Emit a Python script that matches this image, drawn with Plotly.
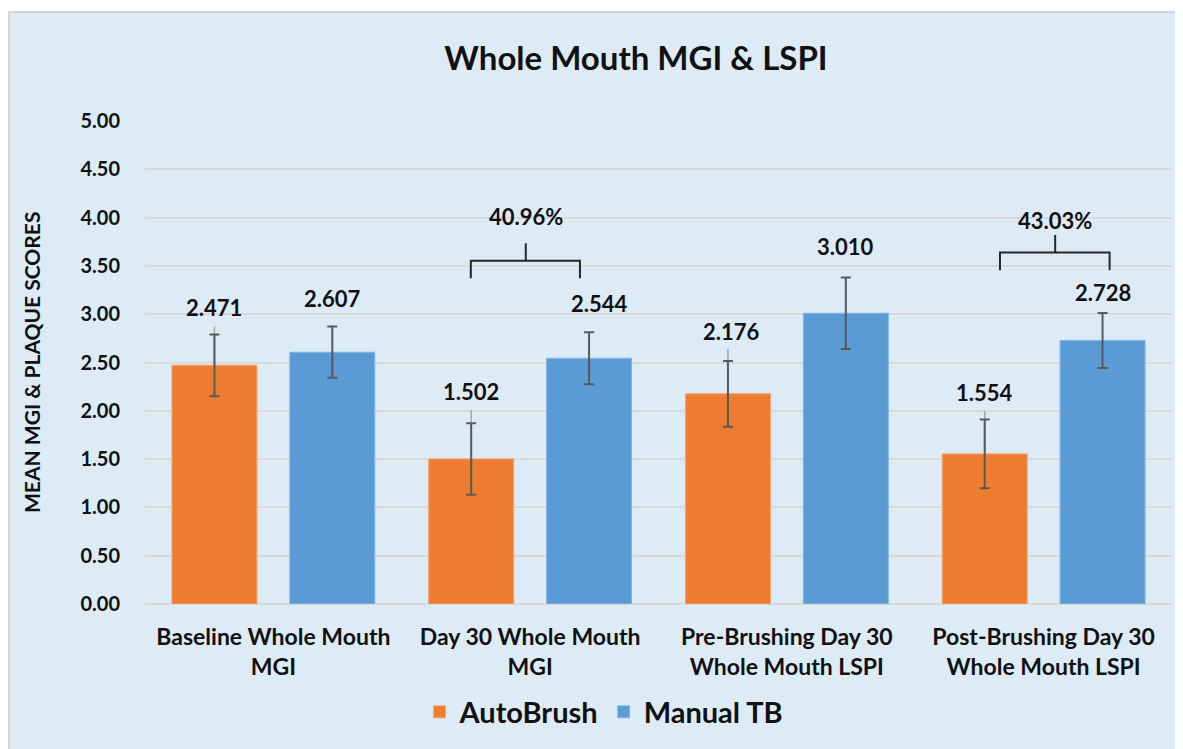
import plotly.graph_objects as go

categories = ["Baseline Whole Mouth<br>MGI", "Day 30 Whole Mouth<br>MGI",
              "Pre-Brushing Day 30<br>Whole Mouth LSPI", "Post-Brushing Day 30<br>Whole Mouth LSPI"]
series_names = ["AutoBrush", "Manual TB"]
auto_vals = [2.471, 1.502, 2.176, 1.554]
manual_vals = [2.607, 2.544, 3.010, 2.728]
auto_err = [0.32, 0.37, 0.34, 0.355]
manual_err = [0.265, 0.27, 0.37, 0.285]
auto_err_light = [0.40, 0.506, 0.464, 0.444]
auto_label_y = [3.07, 2.195, 2.82, 2.19]
manual_label_y = [3.16, 3.11, 3.706, 3.22]
manual_label_dx = [0, 10, 0, 0]
auto_label_dx = [0, 0, 4, 0]
pct_labels = ["40.96%", "43.03%"]
pct_cats = [1, 3]
pct_text_y = [4.01, 3.965]
pct_bracket_y = [3.554, 3.64]
pct_bracket_drop = [3.372, 3.454]
pct_bracket_tick = [3.734, 3.82]
pct_bracket_x = [(-0.231, 0.194, -0.017), (-0.170, 0.257, 0.045)]
y_ticks = [0, 0.5, 1.0, 1.5, 2.0, 2.5, 3.0, 3.5, 4.0, 4.5, 5.0]

ORANGE = "#ED7D31"
BLUE = "#5B9BD5"
BG = "#DDEBF7"
FONT = "Lato"
W = 0.331
OFF_A = -0.395
OFF_M = 0.064

# page is drawn with an 8px body margin
FW, FH = 1175, 741
ML, MT, PW, PH = 137, 113, 1027, 483
MR = FW - ML - PW
MB = FH - MT - PH

idx = list(range(len(categories)))

fig = go.Figure()
# light secondary error line for AutoBrush
fig.add_trace(go.Bar(
    x=idx, y=auto_vals, width=W, offset=OFF_A, showlegend=False, hoverinfo="skip",
    marker=dict(color="rgba(0,0,0,0)"),
    error_y=dict(type="data", symmetric=False, array=auto_err_light,
                 arrayminus=[0] * 4, color="#A6A6A6", thickness=1.5, width=0)))
fig.add_trace(go.Bar(
    x=idx, y=auto_vals, width=W, offset=OFF_A, name=series_names[0],
    marker=dict(color=ORANGE, line=dict(color="#F3A26F", width=1)),
    error_y=dict(type="data", array=auto_err, color="#595959", thickness=2, width=5)))
fig.add_trace(go.Bar(
    x=idx, y=manual_vals, width=W, offset=OFF_M, name=series_names[1],
    marker=dict(color=BLUE, line=dict(color="#85B5E1", width=1)),
    error_y=dict(type="data", array=manual_err, color="#595959", thickness=2, width=5)))

ca = OFF_A + W / 2
cm = OFF_M + W / 2
for i in idx:
    fig.add_annotation(x=i + ca, y=auto_label_y[i], xref="x", yref="y", text=f"{auto_vals[i]:.3f}",
                       showarrow=False, xshift=auto_label_dx[i],
                       font=dict(family=FONT, size=22, color="#111111", weight="bold"))
    fig.add_annotation(x=i + cm, y=manual_label_y[i], xref="x", yref="y", text=f"{manual_vals[i]:.3f}",
                       showarrow=False, xshift=manual_label_dx[i],
                       font=dict(family=FONT, size=22, color="#111111", weight="bold"))

for k, c in enumerate(pct_cats):
    xl, xr, xt = pct_bracket_x[k]
    fig.add_annotation(x=c + xt, y=pct_text_y[k], xref="x", yref="y", text=pct_labels[k],
                       showarrow=False, font=dict(family=FONT, size=22, color="#111111", weight="bold"))
    line = dict(color="#262626", width=2)
    fig.add_shape(type="path", xref="x", yref="y", line=line,
                  path=f"M {c+xl},{pct_bracket_drop[k]} L {c+xl},{pct_bracket_y[k]} L {c+xr},{pct_bracket_y[k]} L {c+xr},{pct_bracket_drop[k]}")
    fig.add_shape(type="line", xref="x", yref="y", line=line,
                  x0=c + xt, x1=c + xt, y0=pct_bracket_y[k], y1=pct_bracket_tick[k])

# chart area background with border
fig.add_shape(type="rect", xref="paper", yref="paper", layer="below",
              x0=(1 - ML) / PW, x1=(FW + 20 - ML) / PW,
              y0=(MT + PH - FH - 20) / PH, y1=(MT + PH - 4) / PH,
              fillcolor=BG, line=dict(color="#D4D4D4", width=2))

fig.add_annotation(xref="paper", yref="paper", x=(31 - 145) / PW, y=(604 - 363) / PH,
                   xanchor="center", yanchor="middle",
                   text="MEAN MGI & PLAQUE SCORES", textangle=-90, showarrow=False,
                   font=dict(family=FONT, size=21, color="#111111", weight="bold"))

fig.update_layout(
    width=FW, height=FH,
    margin=dict(l=ML, r=MR, t=MT, b=MB),
    paper_bgcolor="white", plot_bgcolor="rgba(0,0,0,0)",
    barmode="overlay",
    title=dict(text="<b>Whole Mouth MGI & LSPI</b>", x=(636 - 8) / FW, xref="container", xanchor="center",
               y=1 - (58 - 8) / FH, yanchor="middle",
               font=dict(family=FONT, size=33, color="#111111")),
    showlegend=True,
    legend=dict(orientation="h", x=(604 - 145) / PW, xanchor="center",
                y=(604 - 712) / PH, yanchor="middle", bgcolor="rgba(0,0,0,0)",
                font=dict(family=FONT, size=29, color="#111111", weight="bold"),
                itemwidth=30, traceorder="normal"),
    font=dict(family=FONT),
)
fig.update_xaxes(type="linear", range=[-0.5, 3.5], tickvals=idx, ticktext=categories,
                 showgrid=False, zeroline=False, showline=False, ticks="",
                 ticklabelstandoff=17,
                 tickfont=dict(family=FONT, size=23, color="#111111", weight="bold"))
fig.update_yaxes(range=[0, 5], tickvals=y_ticks, tickformat=".2f",
                 showgrid=True, gridcolor="#D9D9D9", gridwidth=2,
                 zeroline=True, zerolinecolor="#D9D9D9", zerolinewidth=2,
                 showline=False, ticks="", ticklabelstandoff=24,
                 tickfont=dict(family=FONT, size=20, color="#111111", weight="bold"))

fig.write_html("out.html")
